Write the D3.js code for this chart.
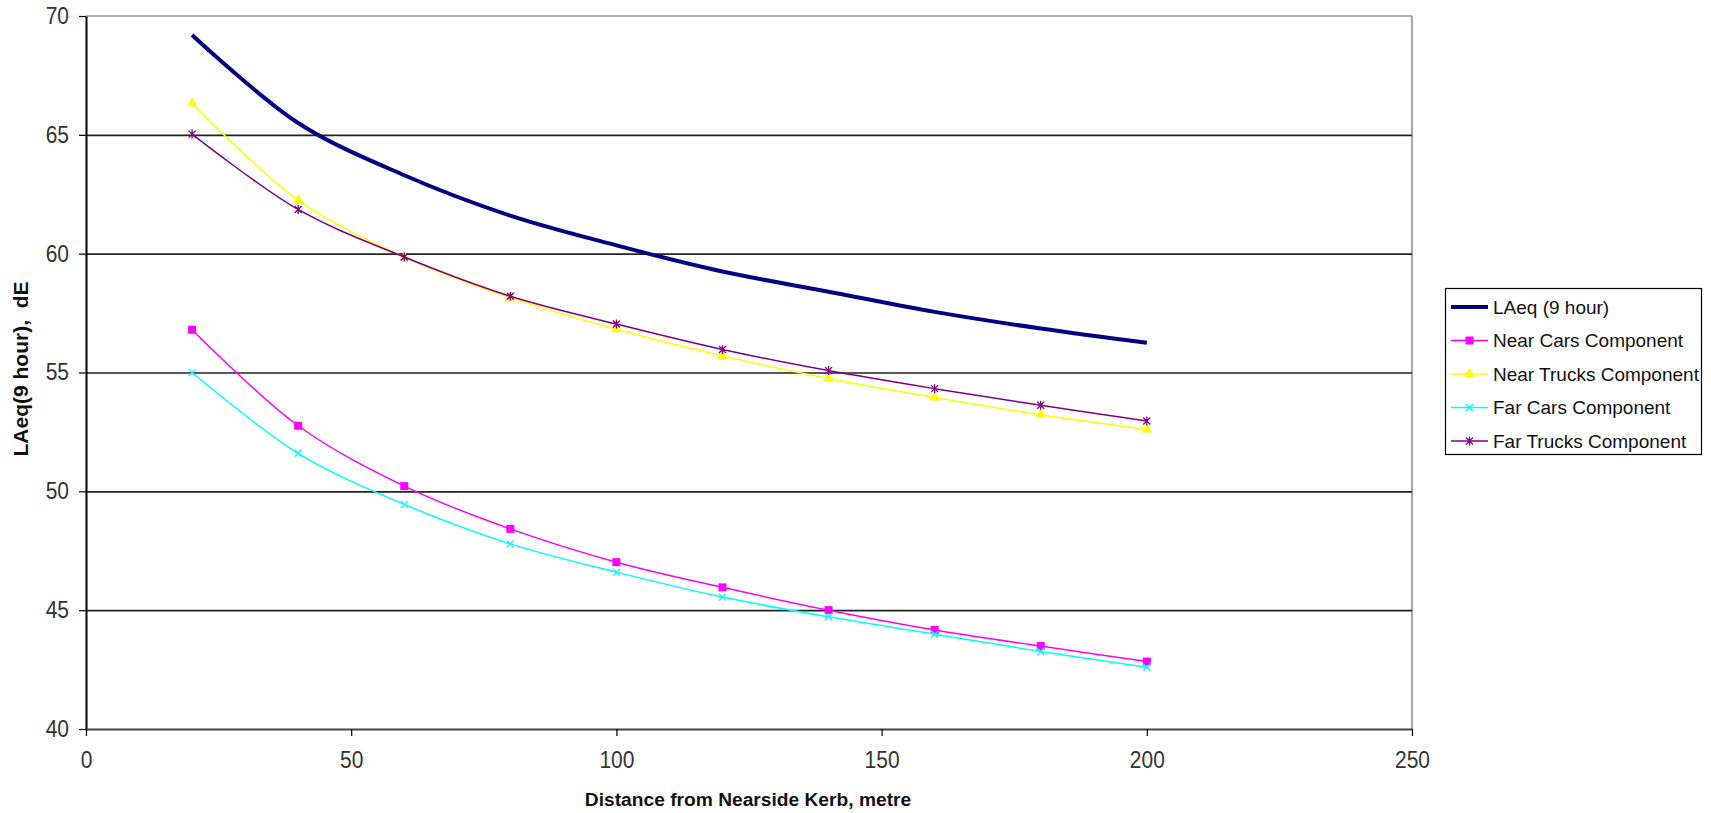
<!DOCTYPE html>
<html>
<head>
<meta charset="utf-8">
<script src="https://cdn.jsdelivr.net/npm/d3@7"></script>
<style>
  html, body { margin: 0; padding: 0; background: #fff; }
  svg { display: block; }
  text { font-family: "Liberation Sans", Arial, sans-serif; }
</style>
</head>
<body>
<svg id="chart" width="1711" height="813"></svg>
<script>
// ---- data ----
const distances = [20, 40, 60, 80, 100, 120, 140, 160, 180, 200];
const laeq        = [69.2, 65.5, 63.3, 61.6, 60.35, 59.25, 58.4, 57.55, 56.85, 56.25];
const nearCars    = [56.8, 52.76, 50.22, 48.42, 47.02, 45.96, 45.0, 44.17, 43.49, 42.84];
const nearTrucks  = [66.33, 62.25, 59.86, 58.15, 56.82, 55.7, 54.75, 53.95, 53.22, 52.6];
const farCars     = [55.0, 51.6, 49.45, 47.79, 46.6, 45.55, 44.72, 43.99, 43.26, 42.6];
const farTrucks   = [65.03, 61.86, 59.86, 58.21, 57.04, 55.97, 55.08, 54.32, 53.62, 52.96];
const seriesNames = ["LAeq (9 hour)", "Near Cars Component", "Near Trucks Component", "Far Cars Component", "Far Trucks Component"];
const xTicks = [0, 50, 100, 150, 200, 250];
const yTicks = [40, 45, 50, 55, 60, 65, 70];
const xTitle = "Distance from Nearside Kerb, metre";
const yTitle = "LAeq(9 hour),  dE";

// ---- layout ----
const plot = { left: 86, right: 1412, top: 16, bottom: 729 };
const svg = d3.select("#chart");
const x = d3.scaleLinear().domain([0, 250]).range([plot.left, plot.right]);
const y = d3.scaleLinear().domain([40, 70]).range([plot.bottom, plot.top]);

const series = [
  { name: seriesNames[0], values: laeq,       color: "#000080", width: 4,   marker: null },
  { name: seriesNames[1], values: nearCars,   color: "#FF00FF", width: 1.5, marker: "square" },
  { name: seriesNames[2], values: nearTrucks, color: "#FFFF00", width: 1.5, marker: "triangle" },
  { name: seriesNames[3], values: farCars,    color: "#00FFFF", width: 1.5, marker: "x" },
  { name: seriesNames[4], values: farTrucks,  color: "#800080", width: 1.5, marker: "star" }
];

// plot border (top/right grey)
svg.append("line").attr("x1", plot.left).attr("x2", plot.right).attr("y1", plot.top).attr("y2", plot.top)
  .attr("stroke", "#999").attr("stroke-width", 1.5);
svg.append("line").attr("x1", plot.right).attr("x2", plot.right).attr("y1", plot.top).attr("y2", plot.bottom)
  .attr("stroke", "#888").attr("stroke-width", 1.5);

// gridlines
svg.append("g")
  .attr("transform", `translate(${plot.left},0)`)
  .call(d3.axisLeft(y).tickValues(yTicks.filter(v => v > 40 && v < 70)).tickSize(-(plot.right - plot.left)).tickFormat(""))
  .call(g => g.select(".domain").remove())
  .call(g => g.selectAll("line").attr("stroke", "#222").attr("stroke-width", 1.6));

// y axis
const yAxis = svg.append("g")
  .attr("transform", `translate(${plot.left},0)`)
  .call(d3.axisLeft(y).tickValues(yTicks).tickSize(7).tickSizeOuter(0).tickPadding(10));
yAxis.select(".domain").attr("stroke", "#000").attr("stroke-width", 2);
yAxis.selectAll(".tick line").attr("stroke", "#000").attr("stroke-width", 1.2);
yAxis.selectAll(".tick text").attr("font-size", 21).attr("fill", "#333")
  .attr("font-family", "Liberation Sans, Arial, sans-serif")
  .attr("transform", "scale(1,1.1)");

// x axis
const xAxis = svg.append("g")
  .attr("transform", `translate(0,${plot.bottom})`)
  .call(d3.axisBottom(x).tickValues(xTicks).tickSize(7).tickSizeOuter(0).tickPadding(14));
xAxis.select(".domain").attr("stroke", "#444").attr("stroke-width", 2);
xAxis.selectAll(".tick line").attr("stroke", "#000").attr("stroke-width", 1.2);
xAxis.selectAll(".tick text").attr("font-size", 21).attr("fill", "#333")
  .attr("font-family", "Liberation Sans, Arial, sans-serif")
  .attr("transform", "scale(1,1.1)");

// axis titles
svg.append("text")
  .attr("x", (plot.left + plot.right) / 2 - 1).attr("y", 806)
  .attr("text-anchor", "middle").attr("font-weight", "bold").attr("font-size", 19.2)
  .attr("fill", "#111")
  .text(xTitle);
svg.append("text")
  .attr("transform", `translate(28,369) rotate(-90)`)
  .attr("text-anchor", "middle").attr("font-weight", "bold").attr("font-size", 21)
  .attr("fill", "#111")
  .style("white-space", "pre")
  .attr("xml:space", "preserve")
  .text(yTitle);

// lines
const lineGen = d3.line().curve(d3.curveCatmullRom.alpha(0.5));
const markerPath = {
  square: "M-4,-4H4V4H-4Z",
  triangle: d3.symbol().type(d3.symbolTriangle).size(48)(),
  x: "M-3.5,-3.5L3.5,3.5M-3.5,3.5L3.5,-3.5",
  star: "M-3.5,-3.5L3.5,3.5M-3.5,3.5L3.5,-3.5M0,-4.5V4.5"
};
function drawMarker(g, type, color) {
  const p = g.append("path").attr("d", markerPath[type]);
  if (type === "square" || type === "triangle") p.attr("fill", color).attr("stroke", "none");
  else p.attr("fill", "none").attr("stroke", color).attr("stroke-width", 1.3);
}

const drawOrder = [1, 3, 2, 4, 0];
drawOrder.forEach(i => {
  const s = series[i];
  const pts = distances.map((d, k) => [x(d), y(s.values[k])]);
  svg.append("path").attr("d", lineGen(pts)).attr("fill", "none")
    .attr("stroke", s.color).attr("stroke-width", s.width).attr("stroke-linejoin", "round");
  if (s.marker) {
    pts.forEach(p => {
      const g = svg.append("g").attr("transform", `translate(${p[0]},${p[1]})`);
      drawMarker(g, s.marker, s.color);
    });
  }
});

// legend
const legend = svg.append("g");
legend.append("rect").attr("x", 1445.5).attr("y", 288.5).attr("width", 256).attr("height", 166)
  .attr("fill", "#fff").attr("stroke", "#000").attr("stroke-width", 1.2);
series.forEach((s, i) => {
  const ly = 307 + i * 33.5;
  legend.append("line").attr("x1", 1451).attr("x2", 1488).attr("y1", ly).attr("y2", ly)
    .attr("stroke", s.color).attr("stroke-width", s.width === 4 ? 4 : 1.5);
  if (s.marker) {
    const g = legend.append("g").attr("transform", `translate(1469.5,${ly})`);
    drawMarker(g, s.marker, s.color);
  }
  legend.append("text").attr("x", 1493).attr("y", ly).attr("dy", "0.36em")
    .attr("font-size", 19).attr("fill", "#111")
    .text(s.name);
});
</script>
</body>
</html>
